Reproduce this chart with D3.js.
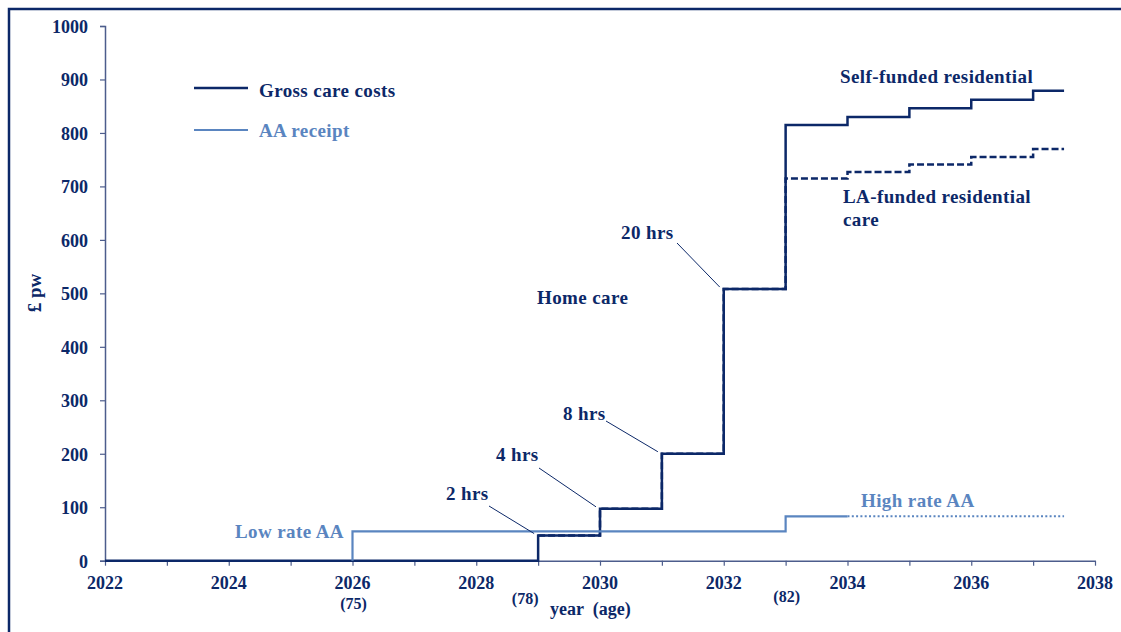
<!DOCTYPE html>
<html>
<head>
<meta charset="utf-8">
<script src="https://cdn.jsdelivr.net/npm/d3@7"></script>
<style>
  html, body { margin: 0; padding: 0; background: #fff; }
  svg { display: block; }
  text { font-family: "Liberation Serif", "Times New Roman", serif; font-weight: bold; }
  .lbl { font-size: 19px; letter-spacing: 0.4px; }
</style>
</head>
<body>
<svg id="chart" width="1121" height="632"></svg>
<script>
// ---- data ----
const careYears   = [2022, 2029, 2030, 2031, 2032, 2033, 2034, 2035, 2036, 2037, 2037.5];
const selfFunded  = [0, 47, 97, 200, 508, 815, 830, 846, 862, 879, 879];
const laYears     = [2029, 2030, 2031, 2032, 2033, 2034, 2035, 2036, 2037, 2037.5];
const laFunded    = [47, 97, 200, 508, 715, 727, 741, 755, 770, 770];
const aaYears     = [2026, 2026, 2033, 2034];
const aaValues    = [0, 55, 83, 83];
const aaProjYears = [2034, 2037.5];
const aaProjVals  = [83, 83];
const yTicks      = [0, 100, 200, 300, 400, 500, 600, 700, 800, 900, 1000];
const xTicks      = [2022, 2024, 2026, 2028, 2030, 2032, 2034, 2036, 2038];
const ageLabels   = [{year: 2026, label: "(75)"}, {year: 2029, label: "(78)"}, {year: 2033, label: "(82)"}];
const careLabels  = [
  {text: "2 hrs",  year: 2029, value: 47},
  {text: "4 hrs",  year: 2030, value: 97},
  {text: "8 hrs",  year: 2031, value: 200},
  {text: "20 hrs", year: 2032, value: 508}
];

const NAVY = "#0c2868";
const LIGHT = "#5a85c0";
const AXIS = "#4d5d8c";

const svg = d3.select("#chart");

// frame
svg.append("rect").attr("x", 9).attr("y", 9).attr("width", 1300).attr("height", 800)
  .attr("fill", "none").attr("stroke", NAVY).attr("stroke-width", 2.5);

const x = d3.scaleLinear().domain([2022, 2038]).range([105, 1095]);
const y = d3.scaleLinear().domain([0, 1000]).range([560.7, 26]);

// y axis
const yAxis = svg.append("g").attr("transform", "translate(105,0)")
  .call(d3.axisLeft(y).tickValues(yTicks).tickSize(5).tickPadding(12).tickFormat(d3.format("d")));
yAxis.select(".domain").attr("stroke", AXIS).attr("stroke-width", 1.5);
yAxis.selectAll(".tick line").attr("stroke", AXIS).attr("stroke-width", 1.2);
yAxis.selectAll(".tick text").attr("fill", NAVY).attr("font-size", 18)
  .attr("font-family", "Liberation Serif").attr("font-weight", "bold").attr("dy", "0.36em");

// x axis
const xAxis = svg.append("g").attr("transform", "translate(0,560.7)")
  .call(d3.axisBottom(x).ticks(16).tickSize(5).tickSizeOuter(0).tickFormat(""));
xAxis.select(".domain").attr("stroke", AXIS).attr("stroke-width", 1.5);
xAxis.selectAll(".tick line").attr("stroke", AXIS).attr("stroke-width", 1.2);
svg.append("g").selectAll("text").data(xTicks).join("text")
  .attr("x", d => x(d)).attr("y", 589).attr("text-anchor", "middle")
  .attr("fill", NAVY).attr("font-size", 18).text(d => d);

// age labels
svg.append("g").selectAll("text").data(ageLabels).join("text")
  .attr("x", d => d.year === 2029 ? x(d.year) - 13 : x(d.year) + 1)
  .attr("y", d => d.year === 2026 ? 609 : (d.year === 2029 ? 604 : 602))
  .attr("text-anchor", "middle")
  .attr("fill", NAVY).attr("font-size", 16).attr("font-weight", "normal").text(d => d.label);
svg.append("text").attr("x", 550).attr("y", 615).attr("fill", NAVY).attr("font-size", 18)
  .style("white-space", "pre").text("year  (age)");

// y title
svg.append("text").attr("transform", "translate(41,293) rotate(-90)").attr("text-anchor", "middle")
  .attr("fill", NAVY).attr("font-size", 19).text("£ pw");

// lines
const line = d3.line().x(d => x(d[0])).y(d => y(d[1])).curve(d3.curveStepAfter);

svg.append("path").datum(careYears.map((d, i) => [d, selfFunded[i]]))
  .attr("d", line).attr("fill", "none").attr("stroke", NAVY).attr("stroke-width", 2.5);
svg.append("path").datum(laYears.map((d, i) => [d, laFunded[i]]))
  .attr("d", line).attr("fill", "none").attr("stroke", NAVY).attr("stroke-width", 2.5)
  .attr("stroke-dasharray", "7,3");

svg.append("path").datum(aaYears.map((d, i) => [d, aaValues[i]]))
  .attr("d", line).attr("fill", "none").attr("stroke", LIGHT).attr("stroke-width", 2.2);
svg.append("path").datum(aaProjYears.map((d, i) => [d, aaProjVals[i]]))
  .attr("d", line).attr("fill", "none").attr("stroke", LIGHT).attr("stroke-width", 2)
  .attr("stroke-dasharray", "2,2.3");

// legend
svg.append("line").attr("x1", 194).attr("x2", 248).attr("y1", 88).attr("y2", 88)
  .attr("stroke", NAVY).attr("stroke-width", 2.5);
svg.append("text").attr("class", "lbl").attr("x", 259).attr("y", 97).attr("fill", NAVY).text("Gross care costs");
svg.append("line").attr("x1", 194).attr("x2", 248).attr("y1", 130).attr("y2", 130)
  .attr("stroke", LIGHT).attr("stroke-width", 2.2);
svg.append("text").attr("class", "lbl").attr("x", 259).attr("y", 137).attr("fill", LIGHT).text("AA receipt");

// annotations
svg.append("text").attr("class", "lbl").attr("x", 840).attr("y", 83).attr("fill", NAVY).text("Self-funded residential");
svg.append("text").attr("class", "lbl").attr("x", 843).attr("y", 203).attr("fill", NAVY).text("LA-funded residential");
svg.append("text").attr("class", "lbl").attr("x", 843).attr("y", 226).attr("fill", NAVY).text("care");
svg.append("text").attr("class", "lbl").attr("x", 537).attr("y", 304).attr("fill", NAVY).text("Home care");
svg.append("text").attr("class", "lbl").attr("x", 235).attr("y", 538).attr("fill", LIGHT).text("Low rate AA");
svg.append("text").attr("class", "lbl").attr("x", 861).attr("y", 507).attr("fill", LIGHT).text("High rate AA");

// care hour labels with leader lines
const labelPos = {
  "2 hrs":  {tx: 446, ty: 500, lx: 489, ly: 506},
  "4 hrs":  {tx: 496, ty: 461, lx: 539, ly: 468},
  "8 hrs":  {tx: 563, ty: 420, lx: 606, ly: 421},
  "20 hrs": {tx: 621, ty: 239, lx: 677, ly: 243}
};
const ann = svg.append("g").selectAll("g").data(careLabels).join("g");
ann.append("text").attr("class", "lbl").attr("x", d => labelPos[d.text].tx).attr("y", d => labelPos[d.text].ty)
  .attr("fill", NAVY).text(d => d.text);
ann.append("line")
  .attr("x1", d => labelPos[d.text].lx).attr("y1", d => labelPos[d.text].ly)
  .attr("x2", d => x(d.year) - 4).attr("y2", d => y(d.value) - 2)
  .attr("stroke", NAVY).attr("stroke-width", 1);
</script>
</body>
</html>
